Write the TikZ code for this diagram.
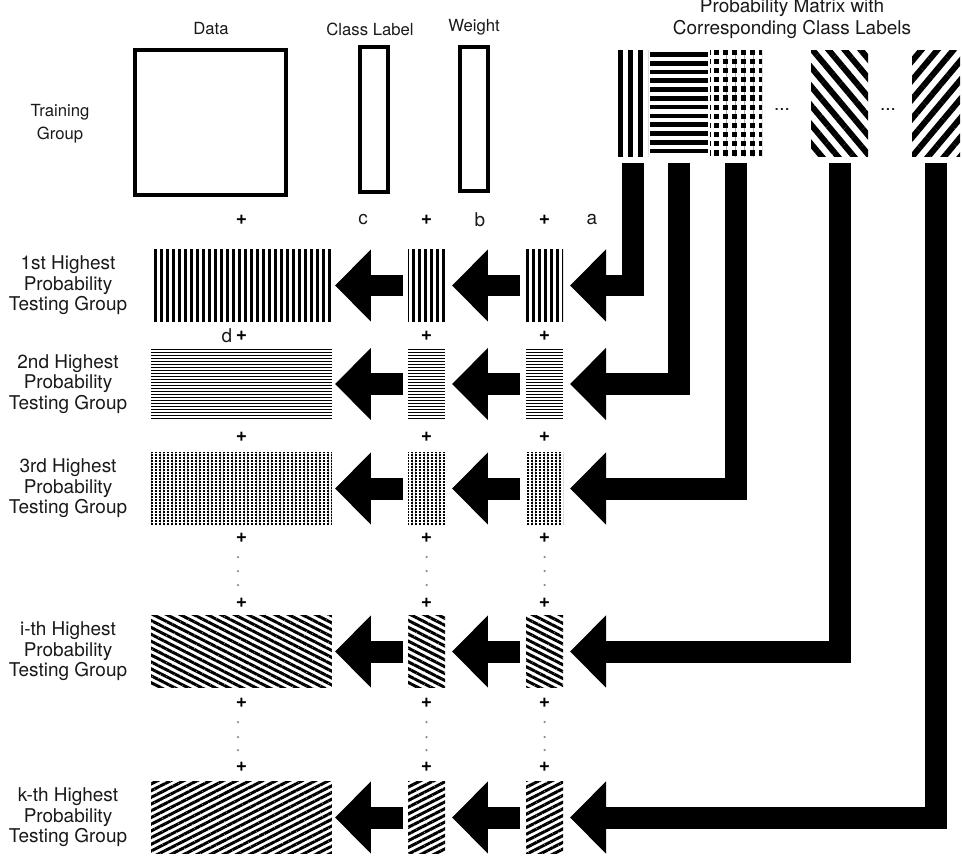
\documentclass[tikz,border=0pt]{standalone}
\usepackage{fontspec}
\setmainfont{TeX Gyre Heros}
\usetikzlibrary{arrows.meta, patterns.meta}

\tikzset{
    txt/.style={font=\fontsize{10.8}{12.5}\selectfont, align=center, text=black!90, inner sep=0pt},
    head/.style={txt, font=\fontsize{9.5}{13}\selectfont},
    grp/.style={txt, font=\fontsize{10.8}{11.6}\selectfont},
    plus/.style={font=\bfseries\fontsize{11}{11}\selectfont, inner sep=0pt},
    trainbox/.style={draw, line width=2.1pt, inner sep=0pt, outer sep=0pt},
    blk/.style={inner sep=0pt, outer sep=0pt, minimum height=1.44cm},
    datablk/.style={blk, minimum width=3.62cm},
    colblk/.style={blk, minimum width=0.74cm},
    matblk/.style={inner sep=0pt, outer sep=0pt, minimum height=2.14cm, minimum width=#1},
    stripes/.style n args={3}{pattern={Lines[angle=#1,distance=#2,line width=#3]}},
    hlines/.style 2 args={path picture={
        \foreach \k in {0,...,25}
            \draw[line width=#2] ([yshift=-\k*#1-0.5*#1]path picture bounding box.north west)
                -- ([yshift=-\k*#1-0.5*#1]path picture bounding box.north east);}},
    dotgrid/.style n args={4}{path picture={
        \fill[pattern={Lines[angle=90,distance=#1,line width=#2]}]
            (path picture bounding box.south west) rectangle (path picture bounding box.north east);
        \fill[pattern={Lines[angle=0,distance=#3,line width=#4]}, pattern color=white]
            (path picture bounding box.south west) rectangle (path picture bounding box.north east);}},
    % one look per testing group
    pat1/.style={stripes={90}{3.414pt}{1.7pt}},
    pat2/.style={hlines={1.707pt}{0.85pt}},
    pat3/.style={dotgrid={2.276pt}{1.2pt}{1.707pt}{0.57pt}},
    pati/.style={stripes={-27}{3.5pt}{1.7pt}},
    patk/.style={stripes={27}{3.4pt}{1.7pt}},
    bigarrow/.style={line width=0.44cm, line join=miter, -{Triangle[width=1.4cm,length=0.72cm]}},
}

\begin{document}
\begin{tikzpicture}[x=0.02cm, y=-0.02cm]
    \useasboundingbox (0,0) rectangle (962,861);

    % Headings (pixel grid, y downwards)
    \node[head] (hd) at (211,29) {Data};
    \node[head] (hc) at (370,29) {Class Label};
    \node[head] (hw) at (474,27) {Weight};
    \node[txt]  (hm) at (792,19) {Probability Matrix with\\Corresponding Class Labels};
    \node[head] (tg) at (60,124) {Training\\Group};

    % Training group
    \node[trainbox, minimum width=3.03cm, minimum height=2.9cm] (td) at (210.5,122.5) {};
    \node[trainbox, minimum width=0.56cm, minimum height=2.9cm] (tc) at (374,119.5) {};
    \node[trainbox, minimum width=0.56cm, minimum height=2.88cm] (tw) at (474,119) {};

    % Probability matrix columns
    \node[matblk=0.62cm, stripes={90}{5.7pt}{2.9pt}] (m1) at (632.5,103.5) {};
    \node[matblk=1.16cm, hlines={5pt}{2.7pt}]        (m2) at (679,103.5) {};
    \node[matblk=1.04cm, dotgrid={5.1pt}{3pt}{5.2pt}{2.2pt}] (m3) at (736,103.5) {};
    \node[matblk=1.14cm, stripes={-50}{7pt}{3.4pt}]  (m4) at (839.5,103.5) {};
    \node[matblk=0.96cm, stripes={50}{7pt}{3.4pt}]   (m5) at (936,103.5) {};
    \node[txt] (e1) at (782,110) {...};
    \node[txt] (e2) at (888,110) {...};

    % Testing groups
    \foreach \n/\y/\ord in {1/285.5/1st, 2/384/2nd, 3/488.5/3rd, i/651.5/i-th, k/817.5/k-th} {
        \node[grp] (g\n) at (68,\y) {\ord{} Highest\\Probability\\Testing Group};
        \node[datablk, pat\n] (d\n) at (241.5,\y) {};
        \node[colblk, pat\n]  (c\n) at (426.5,\y) {};
        \node[colblk, pat\n]  (w\n) at (544.5,\y) {};
        \draw[bigarrow, shorten <=0.1cm, shorten >=0.06cm] (c\n.west) -- (d\n.east);
        \draw[bigarrow, shorten <=0.12cm, shorten >=0.14cm] (w\n.west) -- (c\n.east);
    }

    % matrix columns feed the weights
    \foreach \m/\n in {1/1, 2/2, 3/3, 4/i, 5/k}
        \draw[bigarrow, shorten <=0.12cm, shorten >=0.14cm] (m\m.south) |- (w\n.east);

    % plus signs and dots
    \foreach \y [count=\j] in {220,336,437,538,603,703,767}
        \foreach \x/\c in {241.5/d, 426.5/c, 544.5/w}
            \node[plus] (p\c\j) at (\x,\y) {+};
    \foreach \x in {238,426.5,544.5}
        \foreach \y in {557,571,585,722,737,750}
            \fill[black!45] (\x,\y) circle (0.025cm);

    \node[txt] (la) at (592,220) {a};
    \node[txt] (lb) at (480,220) {b};
    \node[txt] (lc) at (363,220) {c};
    \node[txt] (ld) at (227,336) {d};
\end{tikzpicture}
\end{document}
